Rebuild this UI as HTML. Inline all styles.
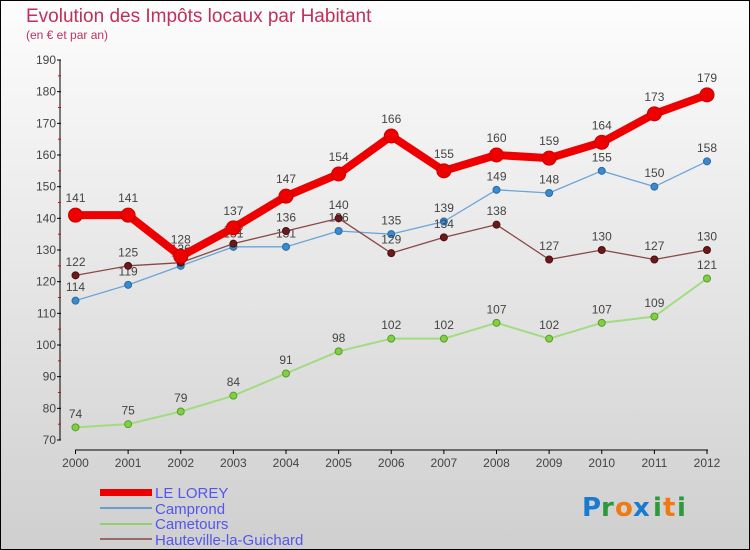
<!DOCTYPE html>
<html><head><meta charset="utf-8"><style>
body{margin:0;width:750px;height:550px;overflow:hidden;font-family:"Liberation Sans",sans-serif}
svg{display:block}
</style></head><body>
<svg id="c" width="750" height="550" xmlns="http://www.w3.org/2000/svg">
<defs><linearGradient id="bg" x1="0" y1="0" x2="0" y2="1"><stop offset="0" stop-color="#fdfdfd"/><stop offset="1" stop-color="#cfcfcf"/></linearGradient></defs>
<rect x="0.5" y="0.5" width="749" height="549" fill="url(#bg)" stroke="#000"/>
<text x="26" y="22" font-size="19" fill="#c0305a">Evolution des Impôts locaux par Habitant</text>
<text x="26" y="39" font-size="12" fill="#c0305a">(en € et par an)</text>
<g id="axes"></g>
<g id="series"></g>
<g id="legend">
<rect x="100" y="489" width="52" height="7" fill="#e00"/>
<text x="155" y="498" font-size="15" fill="#5555ee">LE LOREY</text>
<line x1="100" y1="508" x2="152" y2="508" stroke="#6a9fd0" stroke-width="2"/>
<text x="155" y="514" font-size="15" fill="#5555ee">Camprond</text>
<line x1="100" y1="524" x2="152" y2="524" stroke="#90d070" stroke-width="2"/>
<text x="155" y="529" font-size="15" fill="#5555ee">Cametours</text>
<line x1="100" y1="539" x2="152" y2="539" stroke="#9a6a6a" stroke-width="2"/>
<text x="155" y="545" font-size="15" fill="#5555ee">Hauteville-la-Guichard</text>
</g>
<g font-size="26" font-family="'DejaVu Sans',sans-serif" font-weight="bold">
<text x="582" y="516" fill="#1a7ad0">P</text><text x="601" y="516" fill="#2a9a3a">r</text><text x="615" y="516" fill="#f07a10">o</text><text x="633" y="516" fill="#1a7ad0">x</text><text x="653" y="516" fill="#2a9a3a">i</text><text x="663" y="516" fill="#f07a10">t</text><text x="677" y="516" fill="#2a9a3a">i</text>
</g>
</svg>
<script>
const years=[2000,2001,2002,2003,2004,2005,2006,2007,2008,2009,2010,2011,2012];
const leLorey=[141,141,128,137,147,154,166,155,160,159,164,173,179];
const camprond=[114,119,125,131,131,136,135,139,149,148,155,150,158];
const cametours=[74,75,79,84,91,98,102,102,107,102,107,109,121];
const hauteville=[122,125,126,132,136,140,129,134,138,127,130,127,130];
const yTicks=[70,80,90,100,110,120,130,140,150,160,170,180,190];
const NS="http://www.w3.org/2000/svg";
const x=i=>75.5+i*(707-75.5)/(years.length-1);
const y=v=>440-(v-70)*380/120;
function mk(t,a,p){const e=document.createElementNS(NS,t);for(const k in a)e.setAttribute(k,a[k]);p.appendChild(e);return e;}
const ax=document.getElementById('axes');
const yl=mk('line',{x1:60,y1:60,x2:60,y2:440,stroke:'#000'},ax);


const xl=mk('line',{x1:75,y1:450,x2:708,y2:450,stroke:'#000'},ax);


yTicks.forEach((v,i)=>{
 mk('line',{x1:57,y1:y(v),x2:61,y2:y(v),stroke:'#000'},ax);
 if(i<yTicks.length-1)mk('line',{x1:58,y1:y(v+5),x2:61,y2:y(v+5),stroke:'#e00'},ax);
 const t=mk('text',{x:56,y:y(v)+4,'font-size':12,fill:'#444','text-anchor':'end'},ax);t.textContent=v;
 
 
});
years.forEach((yr,i)=>{
 mk('line',{x1:x(i),y1:450,x2:x(i),y2:454,stroke:'#000'},ax);
 const t=mk('text',{x:x(i),y:467,'font-size':12,fill:'#444','text-anchor':'middle'},ax);t.textContent=yr;
 
 
});
const sg=document.getElementById('series');
function draw(data,name,color,w,r,dot,dstroke){
 const g=mk('g',{},sg);
 
 
 const pl=mk('polyline',{points:data.map((v,i)=>x(i)+','+y(v)).join(' '),fill:'none',stroke:color,'stroke-width':w,'stroke-linejoin':'round'},g);
 
 
 data.forEach((v,i)=>{
  const c=mk('circle',{cx:x(i),cy:y(v),r:r,fill:dot,stroke:dstroke,'stroke-width':1},g);
  
  
  const t=mk('text',{x:x(i),y:y(v)-r-6,'font-size':12,fill:'#444','text-anchor':'middle'},g);t.textContent=v;
  
  
 });
}
draw(cametours,'cametours','#a0dc80',2,3.5,'#80d040','#5a9a30');
draw(camprond,'camprond','#6aa4d8',1.3,3.5,'#3a8ad0','#2a6aa0');
draw(hauteville,'hauteville','#8a4848',1.3,3.5,'#6a1a1a','#4a1010');
draw(leLorey,'le-lorey','#ee0000',8,7,'#ee0000','#c00');
</script>
</body></html>
